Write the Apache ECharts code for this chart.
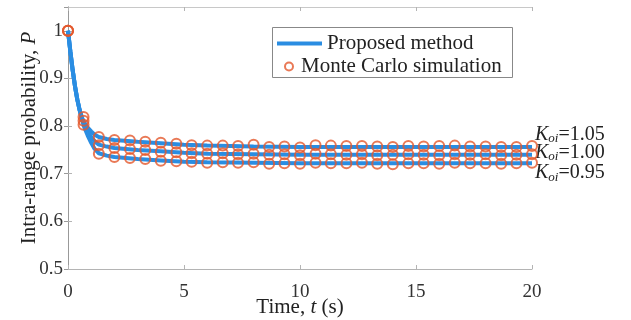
<!DOCTYPE html>
<html>
<head>
<meta charset="utf-8">
<script src="https://cdn.jsdelivr.net/npm/echarts@6/dist/echarts.min.js"></script>
<style>
  html, body { margin: 0; padding: 0; background: #fff; }
  #main { width: 631px; height: 320px; }
</style>
</head>
<body>
<div id="main"></div>
<script>
  // proposed method curves (t, P)
  var lineTime = [0, 0.1, 0.2, 0.3, 0.4, 0.5, 0.6, 0.7, 0.85, 1.0, 1.15, 1.33, 1.67, 2, 3, 4, 5, 6, 8, 10, 14, 20];
  var lineK105 = [1, 0.957, 0.918, 0.884, 0.856, 0.834, 0.818, 0.808, 0.797, 0.789, 0.782, 0.777, 0.773, 0.771, 0.767, 0.764, 0.761, 0.759, 0.757, 0.756, 0.756, 0.756];
  var lineK100 = [1, 0.957, 0.918, 0.884, 0.856, 0.834, 0.816, 0.803, 0.789, 0.777, 0.768, 0.761, 0.757, 0.754, 0.750, 0.747, 0.744, 0.742, 0.741, 0.740, 0.740, 0.740];
  var lineK095 = [1, 0.957, 0.918, 0.884, 0.856, 0.834, 0.814, 0.798, 0.780, 0.765, 0.752, 0.743, 0.738, 0.735, 0.731, 0.728, 0.725, 0.724, 0.723, 0.722, 0.722, 0.722];

  // monte carlo points
  var mcTime = [0, 0.67, 1.33, 2, 2.67, 3.33, 4, 4.67, 5.33, 6, 6.67, 7.33, 8, 8.67, 9.33, 10,
    10.67, 11.33, 12, 12.67, 13.33, 14, 14.67, 15.33, 16, 16.67, 17.33, 18, 18.67, 19.33, 20];
  var mcK105 = [1, 0.819, 0.777, 0.771, 0.770, 0.767, 0.765, 0.763, 0.760, 0.759, 0.759, 0.758, 0.761, 0.756, 0.757, 0.755,
    0.760, 0.759, 0.758, 0.758, 0.757, 0.756, 0.758, 0.757, 0.758, 0.759, 0.757, 0.757, 0.756, 0.756, 0.758];
  var mcK100 = [1, 0.811, 0.760, 0.754, 0.752, 0.750, 0.746, 0.745, 0.743, 0.742, 0.743, 0.741, 0.742, 0.740, 0.741, 0.739,
    0.742, 0.741, 0.740, 0.741, 0.739, 0.740, 0.741, 0.740, 0.739, 0.741, 0.740, 0.741, 0.739, 0.740, 0.741];
  var mcK095 = [1, 0.803, 0.742, 0.735, 0.733, 0.731, 0.727, 0.726, 0.725, 0.723, 0.724, 0.723, 0.724, 0.721, 0.722, 0.721,
    0.723, 0.722, 0.722, 0.723, 0.721, 0.720, 0.722, 0.722, 0.721, 0.723, 0.722, 0.722, 0.721, 0.722, 0.723];

  var kLabels = ['1.05', '1.00', '0.95'];
  var labelOffsets = [-12, -2, 10];

  var blue = '#2a8de2';
  var red = '#e4572c';
  var font = 'Liberation Serif';

  function pairs(xs, ys) {
    var out = [];
    for (var i = 0; i < xs.length; i++) out.push([xs[i], ys[i]]);
    return out;
  }

  var lines = [lineK105, lineK100, lineK095];
  var mcs = [mcK105, mcK100, mcK095];
  var series = [];
  for (var i = 0; i < 3; i++) {
    series.push({
      name: 'Proposed method',
      type: 'line',
      symbol: 'none',
      data: pairs(lineTime, lines[i]),
      lineStyle: { color: blue, width: 4 },
      itemStyle: { color: blue },
      z: 2,
      endLabel: {
        show: true,
        distance: 3,
        offset: [0, labelOffsets[i]],
        formatter: '{k|K}{s|oi}{v|=' + kLabels[i] + '}',
        rich: {
          k: { fontFamily: font, fontStyle: 'italic', fontSize: 20, color: '#222' },
          s: { fontFamily: font, fontStyle: 'italic', fontSize: 13, color: '#222', verticalAlign: 'bottom', padding: [8, 0, 0, 0] },
          v: { fontFamily: font, fontSize: 20, color: '#222' }
        }
      }
    });
  }
  for (var j = 0; j < 3; j++) {
    series.push({
      name: 'Monte Carlo simulation',
      type: 'scatter',
      symbol: 'circle',
      symbolSize: 10,
      data: pairs(mcTime, mcs[j]),
      itemStyle: { color: 'transparent', borderColor: red, borderWidth: 2 },
      z: 3
    });
  }

  var chart = echarts.init(document.getElementById('main'));
  chart.setOption({
    animation: false,
    backgroundColor: '#fff',
    grid: { left: 68, right: 99, top: 7, bottom: 51, containLabel: false, outerBoundsMode: 'none' },
    legend: [
      {
        data: [{ name: 'Proposed method', icon: 'rect' }],
        left: 277, top: 33,
        padding: 0,
        itemWidth: 45, itemHeight: 4,
        textStyle: { fontFamily: font, fontSize: 21, color: '#222' }
      },
      {
        data: ['Monte Carlo simulation'],
        left: 284, top: 56,
        padding: 0,
        itemWidth: 14, itemHeight: 8,
        textStyle: { fontFamily: font, fontSize: 21, color: '#222' }
      }
    ],
    graphic: [{
      type: 'rect',
      left: 272, top: 27,
      shape: { width: 240, height: 50 },
      style: { fill: 'transparent', stroke: '#888', lineWidth: 1 },
      z: 1
    }],
    xAxis: [
      {
        type: 'value', min: 0, max: 20, interval: 5,
        name: 'Time, {i|t} (s)',
        nameLocation: 'middle', nameGap: 28, nameMoveOverlap: false,
        nameTextStyle: {
          fontFamily: font, fontSize: 21, color: '#222',
          rich: { i: { fontFamily: font, fontStyle: 'italic', fontSize: 21, color: '#222' } }
        },
        axisLine: { lineStyle: { color: '#b4b4b4' } },
        axisTick: { inside: true, length: 4, lineStyle: { color: '#b4b4b4' } },
        axisLabel: { fontFamily: font, fontSize: 19, color: '#333', margin: 14 },
        splitLine: { show: false }
      },
      {
        type: 'value', min: 0, max: 20, interval: 5, position: 'top',
        axisLine: { lineStyle: { color: '#c8c8c8' } },
        axisTick: { inside: true, length: 4, lineStyle: { color: '#b4b4b4' } },
        axisLabel: { show: false },
        splitLine: { show: false }
      }
    ],
    yAxis: [
      {
        type: 'value', min: 0.5, max: 1.05, interval: 0.1,
        name: 'Intra-range probability, {i|P}',
        nameLocation: 'middle', nameGap: 28, nameMoveOverlap: false,
        nameTextStyle: {
          fontFamily: font, fontSize: 21, color: '#222',
          rich: { i: { fontFamily: font, fontStyle: 'italic', fontSize: 21, color: '#222' } }
        },
        axisLine: { show: true, lineStyle: { color: '#b4b4b4' } },
        axisTick: { show: true, inside: true, length: 4, lineStyle: { color: '#b4b4b4' } },
        axisLabel: { fontFamily: font, fontSize: 19, color: '#333', margin: 5, showMaxLabel: false },
        splitLine: { show: false }
      },
      {
        type: 'value', min: 0.5, max: 1.05, interval: 0.1, position: 'right',
        axisLine: { show: true, lineStyle: { color: '#999' } },
        axisTick: { show: true, inside: true, length: 4, lineStyle: { color: '#999' } },
        axisLabel: { show: false },
        splitLine: { show: false }
      }
    ],
    series: series
  });
</script>
</body>
</html>
